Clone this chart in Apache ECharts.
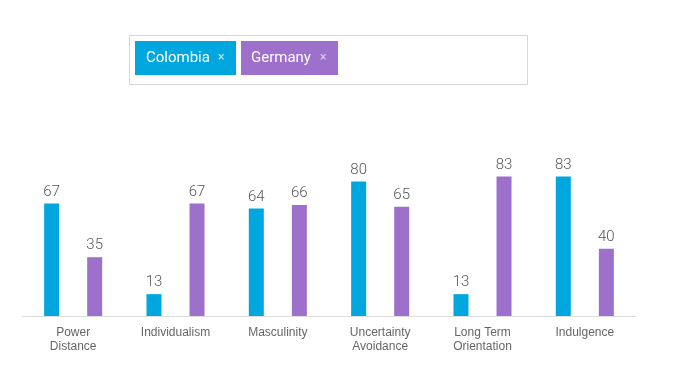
<!DOCTYPE html>
<html><head><meta charset="utf-8">
<script src="https://cdn.jsdelivr.net/npm/echarts@6/dist/echarts.min.js"></script>
<style>html,body{margin:0;padding:0;background:#fff}#c{width:693px;height:371px}</style>
</head><body><div id="c"></div>
<script>
const categories = ['Power\nDistance','Individualism','Masculinity','Uncertainty\nAvoidance','Long Term\nOrientation','Indulgence'];
const seriesNames = ['Colombia','Germany'];
const colombia = [67,13,64,80,13,83];
const germany = [35,67,66,65,83,40];
const colors = ['#00a7de','#9d70cc'];

const chart = echarts.init(document.getElementById('c'));
const labelStyle = {show:true, position:'top', distance:4, color:'#555', fontSize:15, fontFamily:'Roboto', fontWeight:300};
chart.setOption({
  animation:false,
  grid:{left:22, right:57, top:148, bottom:55},
  xAxis:{type:'category', data:categories,
    axisLine:{lineStyle:{color:'#dddddd'}}, axisTick:{show:false},
    axisLabel:{color:'#666', fontSize:12, fontFamily:'Liberation Sans', margin:10, lineHeight:14, interval:0}},
  yAxis:{type:'value', min:0, max:100, show:false},
  graphic:[
    {type:'rect', shape:{x:129.5,y:35.5,width:398,height:49}, style:{fill:'#fff', stroke:'#d6d6d6', lineWidth:1}},
    {type:'rect', shape:{x:135,y:41,width:101,height:34}, style:{fill:colors[0]}},
    {type:'text', x:146, y:58, style:{text:seriesNames[0], fill:'#fff', font:'15px Roboto', textVerticalAlign:'middle'}},
    {type:'text', x:218, y:58, style:{text:'×', fill:'#cfeaf7', font:'12px Roboto', textVerticalAlign:'middle'}},
    {type:'rect', shape:{x:241,y:41,width:97,height:34}, style:{fill:colors[1]}},
    {type:'text', x:251, y:58, style:{text:seriesNames[1], fill:'#fff', font:'15px Roboto', textVerticalAlign:'middle'}},
    {type:'text', x:320, y:58, style:{text:'×', fill:'#e0d2f0', font:'12px Roboto', textVerticalAlign:'middle'}}
  ],
  series:[
    {name:seriesNames[0], type:'bar', data:colombia, barWidth:15, barGap:'187%', itemStyle:{color:colors[0]}, label:labelStyle},
    {name:seriesNames[1], type:'bar', data:germany, barWidth:15, itemStyle:{color:colors[1]}, label:labelStyle}
  ]
});
</script></body></html>
